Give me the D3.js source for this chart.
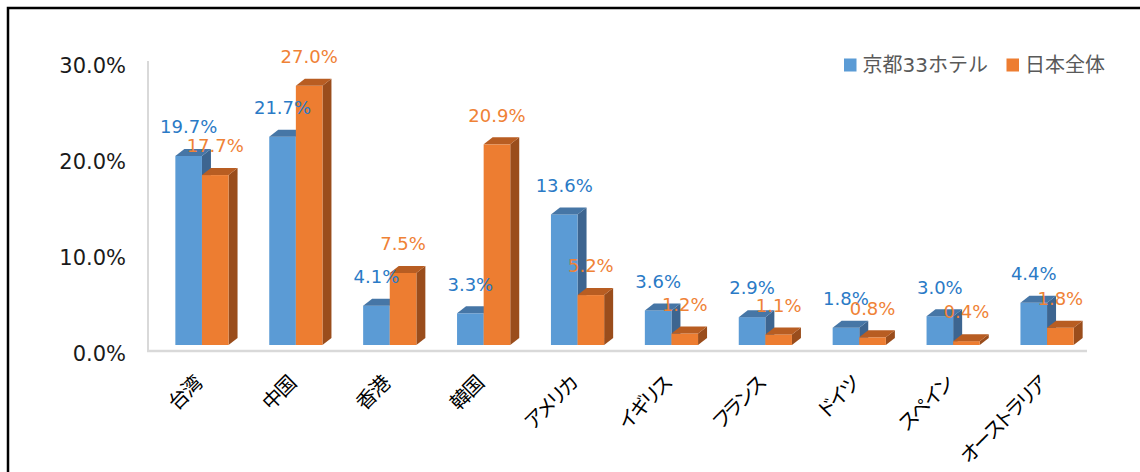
<!DOCTYPE html>
<html>
<head>
<meta charset="utf-8">
<script src="https://cdn.jsdelivr.net/npm/d3@7"></script>
<style>
  body { margin: 0; background: #fff; }
  svg { display: block; }
</style>
</head>
<body>
<div id="chart"></div>
<script>
const categories = ["台湾", "中国", "香港", "韓国", "アメリカ", "イギリス", "フランス", "ドイツ", "スペイン", "オーストラリア"];
const seriesNames = ["京都33ホテル", "日本全体"];
const kyotoValues = [19.7, 21.7, 4.1, 3.3, 13.6, 3.6, 2.9, 1.8, 3.0, 4.4];
const japanValues = [17.7, 27.0, 7.5, 20.9, 5.2, 1.2, 1.1, 0.8, 0.4, 1.8];
const yTicks = [0, 10, 20, 30];

const svgW = 1140, svgH = 472;
const depthX = 9, depthY = 7;
const pairW = 53.2;

const colors = {
  "京都33ホテル": { front: "#5b9bd5", top: "#4676a6", side: "#3d6590", label: "#2a7ac6" },
  "日本全体": { front: "#ed7d31", top: "#b85d22", side: "#9a4d1c", label: "#ef8236" }
};

const rows = categories.map((c, i) => ({ cat: c, values: [kyotoValues[i], japanValues[i]] }));

const svg = d3.select("#chart").append("svg")
  .attr("width", svgW)
  .attr("height", svgH);

svg.append("rect").attr("width", svgW).attr("height", svgH).attr("fill", "#fff");

// outer frame
svg.append("rect")
  .attr("x", 8).attr("y", 8)
  .attr("width", 1300).attr("height", 700)
  .attr("fill", "none")
  .attr("stroke", "#000")
  .attr("stroke-width", 2.5);

const x0 = d3.scaleBand().domain(categories).range([155, 1094]);
const x1 = d3.scaleBand().domain(seriesNames).range([0, pairW]);
const y = d3.scaleLinear().domain([0, 30]).range([345, 57]);

// axis lines
svg.append("line")
  .attr("x1", 148).attr("x2", 148)
  .attr("y1", 61).attr("y2", 352)
  .attr("stroke", "#d9d9d9").attr("stroke-width", 2);
svg.append("line")
  .attr("x1", 147).attr("x2", 1087)
  .attr("y1", 351).attr("y2", 351)
  .attr("stroke", "#d9d9d9").attr("stroke-width", 2.5);

// y tick labels
const yAxis = svg.append("g")
  .attr("transform", "translate(148, 8.5)")
  .call(d3.axisLeft(y).tickValues(yTicks).tickSize(0).tickPadding(22).tickFormat(d => d.toFixed(1) + "%"));
yAxis.select(".domain").remove();
yAxis.selectAll("text")
  .style("font-family", "'DejaVu Sans', sans-serif")
  .style("font-size", "21px")
  .attr("fill", "#1a1a1a");

// bars (3D-ish)
const groups = svg.append("g").selectAll("g")
  .data(rows)
  .enter().append("g")
  .attr("transform", d => `translate(${x0(d.cat) + (x0.bandwidth() - pairW) / 2}, 0)`);

seriesNames.forEach((s, si) => {
  const bar = groups.append("g");
  const bx = x1(s);
  const bw = x1.bandwidth();
  bar.append("polygon")
    .attr("points", d => {
      const t = y(d.values[si]), b = y(0), xr = bx + bw;
      return [[xr, t], [xr + depthX, t - depthY], [xr + depthX, b - depthY], [xr, b]].join(" ");
    })
    .attr("fill", colors[s].side);
  bar.append("rect")
    .attr("x", bx)
    .attr("y", d => y(d.values[si]))
    .attr("width", bw)
    .attr("height", d => y(0) - y(d.values[si]))
    .attr("fill", colors[s].front);
  bar.append("polygon")
    .attr("points", d => {
      const t = y(d.values[si]);
      return [[bx, t], [bx + depthX, t - depthY], [bx + bw + depthX, t - depthY], [bx + bw, t]].join(" ");
    })
    .attr("fill", colors[s].top);
});

// data labels
seriesNames.forEach((s, si) => {
  groups.append("text")
    .attr("x", x1(s) + x1.bandwidth() / 2)
    .attr("y", d => y(d.values[si]) - 29)
    .attr("dy", "0.35em")
    .attr("text-anchor", "middle")
    .style("font-family", "'DejaVu Sans', sans-serif")
    .style("font-size", "18px")
    .attr("fill", colors[s].label)
    .text(d => d.values[si].toFixed(1) + "%");
});

// x labels
svg.append("g").selectAll("text")
  .data(categories)
  .enter().append("text")
  .attr("transform", d => `translate(${x0(d) + x0.bandwidth() / 2 + 1}, 385) rotate(-45)`)
  .attr("text-anchor", "end")
  .style("font-family", "'Noto Sans CJK JP', sans-serif")
  .style("font-size", "20px")
  .style("letter-spacing", "-1.5px")
  .style("font-feature-settings", "'palt'")
  .attr("fill", "#000")
  .text(d => d);

// legend
const legend = svg.append("g").attr("transform", "translate(844, 65)");
seriesNames.forEach((s, i) => {
  const g = legend.append("g").attr("transform", `translate(${i === 0 ? 0 : 162.5}, 0)`);
  g.append("rect")
    .attr("x", 0).attr("y", -6.5)
    .attr("width", 12.5).attr("height", 13)
    .attr("fill", colors[s].front);
  g.append("text")
    .attr("x", 18.5)
    .attr("dy", "0.35em")
    .style("font-family", "'DejaVu Sans', 'Noto Sans CJK JP', sans-serif")
    .style("font-size", "20px")
    .attr("fill", "#595959")
    .text(s);
});
</script>
</body>
</html>
